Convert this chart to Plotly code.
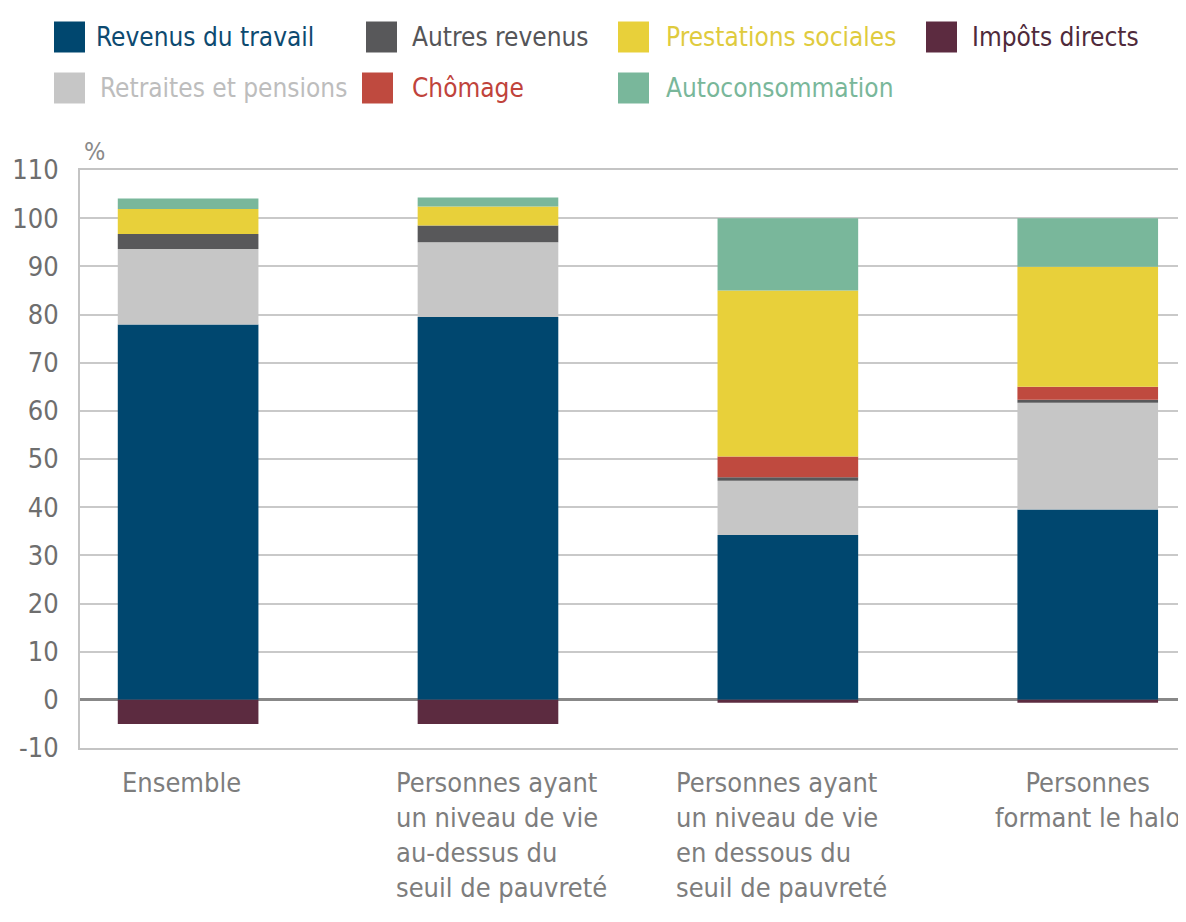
import plotly.graph_objects as go

# ── Data ──────────────────────────────────────────────────────────────────────
categories = [
    "Ensemble",
    "Personnes ayant<br>un niveau de vie<br>au-dessus du<br>seuil de pauvreté",
    "Personnes ayant<br>un niveau de vie<br>en dessous du<br>seuil de pauvreté",
    "Personnes<br>formant le halo",
]
revenus_travail = [77.9, 79.5, 34.2, 39.5]
retraites = [15.7, 15.5, 11.3, 22.2]
autres_revenus = [3.1, 3.5, 0.7, 0.6]
chomage = [0.0, 0.0, 4.3, 2.7]
prestations = [5.2, 3.9, 34.5, 24.9]
autoconsommation = [2.2, 1.9, 15.0, 10.1]
impots = [-5.0, -5.0, -0.6, -0.6]

y_ticks = list(range(-10, 111, 10))
y_ticktext = [str(v) for v in y_ticks]   # plain hyphen for "-10"

# ── Style ─────────────────────────────────────────────────────────────────────
FONT = "Liberation Sans Narrow, DejaVu Sans Condensed, Arial Narrow, sans-serif"
OFF = 8                      # page body margin
W, H = 1178, 914
L, R, T, B = 80 - OFF, 8, 170 - OFF, 174

series = [
    # name, values, bar colour, legend text colour, (square x, text x, row) in page px
    ("Revenus du travail", revenus_travail, "#00476f", "#0d4a70", (54, 94, 0)),
    ("Retraites et pensions", retraites, "#c6c6c6", "#bdbdbd", (54, 98, 1)),
    ("Autres revenus", autres_revenus, "#58585a", "#555558", (366, 410, 0)),
    ("Chômage", chomage, "#bf4a3f", "#c0433b", (362, 410, 1)),
    ("Prestations sociales", prestations, "#e8d03a", "#dfcb3e", (618, 664, 0)),
    ("Autoconsommation", autoconsommation, "#79b79b", "#79b79a", (618, 664, 1)),
    ("Impôts directs", impots, "#5c2b40", "#4f2a3b", (926, 970, 0)),
]
ROW_Y = [37, 88]
SQ = 31
LABEL_SHIFT = [-7, 14, -6, 0]


def px_x(p):
    return (p - OFF - L) / (W - L - R)


def px_y(p):
    return (H - B - (p - OFF)) / (H - T - B)


fig = go.Figure()
for name, vals, color, _, _ in series:
    fig.add_trace(go.Bar(
        x=categories, y=vals, name=name,
        marker=dict(color=color, line=dict(width=0)),
        width=0.469, showlegend=False,
    ))

shapes, annotations = [], []
for name, _, color, tcolor, (sx, tx, row) in series:
    cy = ROW_Y[row]
    shapes.append(dict(
        type="rect", xref="paper", yref="paper",
        x0=px_x(sx), x1=px_x(sx + SQ),
        y0=px_y(cy - SQ / 2), y1=px_y(cy + SQ / 2),
        fillcolor=color, line=dict(width=0),
    ))
    annotations.append(dict(
        text=name, xref="paper", yref="paper",
        x=px_x(tx), y=px_y(cy), xanchor="left", yanchor="middle",
        showarrow=False, font=dict(family=FONT, size=26, color=tcolor),
    ))

# category labels under the bars
for i, cat in enumerate(categories):
    annotations.append(dict(
        text=cat, xref="x", yref="paper", x=cat, y=0, yshift=-17,
        xshift=LABEL_SHIFT[i],
        xanchor="center", yanchor="top", showarrow=False,
        align="left" if i in (1, 2) else "center",
        font=dict(family=FONT, size=27, color="#7d7d7d"),
    ))

annotations.append(dict(
    text="%", xref="paper", yref="paper", x=px_x(82), y=px_y(151),
    xanchor="left", yanchor="middle", showarrow=False,
    font=dict(family=FONT, size=25, color="#8a8a8a"),
))

fig.update_layout(
    width=W, height=H,
    barmode="relative",
    paper_bgcolor="white", plot_bgcolor="white",
    margin=dict(l=L, r=R, t=T, b=B, autoexpand=False),
    font=dict(family=FONT, color="#6e6e6e"),
    shapes=shapes, annotations=annotations,
    xaxis=dict(
        range=[-0.3605, 3.301], showticklabels=False, ticks="",
        showline=True, linecolor="#c4c4c4", linewidth=2, mirror=True,
        showgrid=False, automargin=False,
    ),
    yaxis=dict(
        range=[-10, 110], tickvals=y_ticks, ticktext=y_ticktext,
        tickfont=dict(family=FONT, size=27, color="#6e6e6e"),
        showgrid=True, gridcolor="#c9c9c9", gridwidth=2,
        zeroline=True, zerolinecolor="#888888", zerolinewidth=3,
        showline=True, linecolor="#c4c4c4", linewidth=2, mirror=True,
        ticks="", ticklabelstandoff=14, automargin=False,
    ),
)

fig.write_html("out.html")
